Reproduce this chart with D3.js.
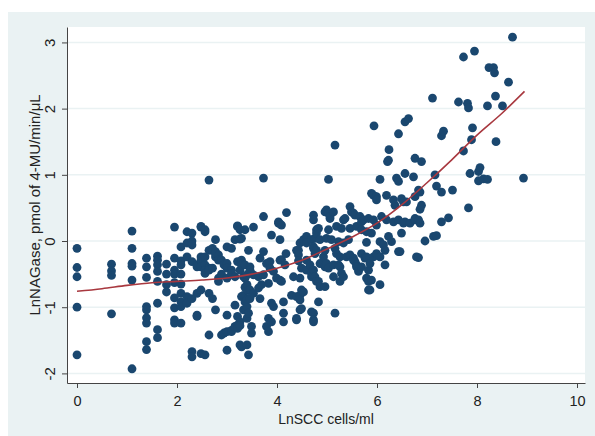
<!DOCTYPE html>
<html lang="en">
<head>
    <meta charset="UTF-8">
    <title>LnNAGase vs LnSCC</title>
    <script src="https://cdnjs.cloudflare.com/ajax/libs/d3/7.8.5/d3.min.js"></script>
</head>
<style>
    body { margin: 0; background: #fff; }
    text { font-family: "Liberation Sans", Arial, sans-serif; fill: #222; }
    .grid { stroke: #eaf2f3; stroke-width: 1.5; }
    .dot { fill: #1a476f; }
    .fit { fill: none; stroke: #a8383f; stroke-width: 1.6; }
</style>
<body>
<svg id="chart" width="595" height="436"></svg>
<script>
    // tick values
    const xTicks = [0, 2, 4, 6, 8, 10];
    const yTicks = [-2, -1, 0, 1, 2, 3];

    const ptsLow = [
        [0, -0.11], [0, -0.40], [0, -0.54], [0, -1.0], [0, -1.72],
        [0.69, -0.35], [0.69, -0.45], [0.69, -0.52], [0.69, -1.10],
        [1.10, 0.15], [1.10, -0.11], [1.10, -0.34], [1.10, -0.38], [1.10, -0.59], [1.10, -1.93],
        [1.39, -0.26], [1.39, -0.39], [1.39, -0.55], [1.39, -0.99], [1.39, -1.04], [1.39, -1.16],
        [1.39, -1.24], [1.39, -1.52], [1.39, -1.64],
        [1.61, -0.23], [1.61, -0.29], [1.61, -0.36], [1.61, -0.46], [1.61, -0.61], [1.61, -0.94],
        [1.61, -1.34], [1.61, -1.46],
        [1.79, -0.35], [1.79, -0.50], [1.79, -0.66], [1.79, -0.77],
        [1.95, 0.21], [1.95, -0.26], [1.95, -0.44], [1.95, -0.50], [1.95, -0.63], [1.95, -0.86],
        [1.95, -1.01], [1.95, -1.19], [1.95, -1.24]
    ];

    const ptsMid = [
        [2.08, -0.09], [2.08, -0.30], [2.08, -0.36], [2.08, -0.50], [2.08, -0.65], [2.08, -0.92],
        [2.08, -0.99], [2.08, -1.24], [2.08, -0.79],
        [2.20, 0.14], [2.20, -0.24], [2.20, -0.84], [2.20, -0.94], [2.20, -0.03],
        [2.30, 0.12], [2.30, 0.0], [2.30, -0.31], [2.30, -0.87], [2.30, -1.67], [2.30, -1.75], [2.30, -0.06],
        [2.40, -0.36], [2.40, -0.39], [2.40, -1.12], [2.40, -1.14], [2.40, -0.79],
        [2.48, 0.21], [2.48, 0.22], [2.48, -0.24], [2.48, -0.29], [2.48, -0.39], [2.48, -0.74], [2.48, -1.70],
        [2.56, 0.14], [2.56, 0.17], [2.56, -0.36], [2.56, -0.44], [2.56, -0.49], [2.56, -1.72], [2.56, -0.24],
        [2.64, 0.92], [2.64, -0.14], [2.64, -0.41], [2.64, -0.44], [2.64, -1.42], [2.64, -0.79],
        [2.71, -0.14], [2.71, -0.41], [2.71, -0.87], [2.71, -0.11],
        [2.77, 0.02], [2.77, -0.16], [2.77, -0.24], [2.77, -1.04], [2.77, -0.19],
        [2.83, -0.21], [2.83, -0.29], [2.83, -0.56], [2.83, -0.61],
        [2.89, -0.29], [2.89, -1.42], [2.89, -0.50],
        [2.94, -0.36], [2.94, -1.39],
        [3.0, -0.09], [3.0, -0.34], [3.0, -0.41], [3.0, -0.56], [3.0, -1.12], [3.0, -1.65], [3.0, -1.37],
        [3.09, -0.11], [3.09, -0.44], [3.09, -0.49], [3.09, -1.37], [3.09, -1.35],
        [3.16, 0.02], [3.16, -0.54], [3.16, -0.97], [3.16, -1.29], [3.16, -1.30],
        [3.21, 0.22], [3.21, 0.23], [3.21, -0.31], [3.21, -1.14], [3.21, -1.27], [3.21, -1.32],
        [3.26, 0.17], [3.26, 0.03], [3.26, -0.44], [3.26, -1.22], [3.26, -1.57], [3.26, -1.28],
        [3.29, 0.04], [3.29, -0.29], [3.29, -0.36], [3.29, -0.84], [3.29, -1.60],
        [3.33, -0.54], [3.33, -1.04], [3.33, -0.82],
        [3.36, 0.17], [3.36, -0.36], [3.36, -0.56], [3.36, -0.92], [3.36, -0.70],
        [3.40, -0.51], [3.40, -0.66], [3.40, -0.99], [3.40, -1.17], [3.40, -1.57], [3.40, -0.88],
        [3.43, -0.14], [3.43, -1.09], [3.43, -1.72], [3.43, -0.75],
        [3.46, -0.39], [3.46, -0.44], [3.46, -0.74], [3.46, -0.87],
        [3.49, -1.29], [3.49, -1.39],
        [3.53, 0.21], [3.53, -0.51], [3.53, -0.79],
        [3.63, -0.54], [3.63, -0.71],
        [3.66, -0.26], [3.66, -0.87],
        [3.69, -0.66],
        [3.73, 0.95], [3.73, 0.37], [3.73, -0.16], [3.73, -0.51],
        [3.79, -0.34], [3.79, -1.29],
        [3.83, -0.64], [3.83, -1.17], [3.83, -1.37],
        [3.86, -0.31], [3.86, -0.41],
        [3.89, 0.09], [3.89, -0.94], [3.89, -1.22],
        [3.93, -0.46], [3.93, -0.99],
        [3.99, -0.56]
    ];

    const ptsHigh = [
        [4.03, 0.29], [4.03, 0.27],
        [4.06, 0.26], [4.06, 0.02], [4.06, -0.29], [4.06, -0.59],
        [4.09, 0.24], [4.09, -0.28], [4.09, -0.61],
        [4.13, -0.92], [4.13, -1.09], [4.13, -1.22],
        [4.16, -0.36], [4.18, -0.19], [4.19, 0.43], [4.29, -0.82], [4.33, -0.54],
        [4.39, -0.14], [4.39, -0.84], [4.39, -1.17], [4.39, -1.19],
        [4.43, -0.14], [4.43, -0.21], [4.43, -0.30],
        [4.46, -0.03], [4.46, -0.56], [4.46, -0.82], [4.46, -0.89], [4.46, -1.04],
        [4.49, -0.41], [4.49, -0.74], [4.49, -1.02],
        [4.53, 0.02], [4.53, -0.77],
        [4.59, 0.07], [4.59, -0.03], [4.59, -0.29], [4.59, -0.44],
        [4.66, -0.36],
        [4.69, 0.02], [4.69, -0.49], [4.69, -0.54], [4.69, -1.07],
        [4.73, 0.39], [4.73, 0.32], [4.73, -0.09], [4.73, -0.11], [4.73, -0.44], [4.73, -1.09],
        [4.73, -1.19], [4.73, -1.22],
        [4.76, 0.04], [4.76, -0.19], [4.76, -0.54],
        [4.79, 0.17], [4.79, 0.12], [4.79, -0.14], [4.79, -0.61],
        [4.83, 0.19], [4.83, -0.61], [4.83, -0.92],
        [4.86, 0.02], [4.86, -0.34], [4.86, -0.69],
        [4.93, -0.24],
        [4.96, 0.44], [4.96, -0.14], [4.96, -0.39], [4.96, -0.69],
        [4.99, 0.47], [4.99, 0.04], [4.99, -0.34],
        [5.03, 0.93], [5.03, 0.42], [5.03, 0.17], [5.03, -0.41],
        [5.06, 0.34], [5.06, 0.37], [5.09, 0.02],
        [5.13, 0.44], [5.13, -0.36], [5.13, -0.54],
        [5.16, 1.45], [5.16, -0.11], [5.16, -1.09],
        [5.19, 0.22], [5.19, -0.19],
        [5.23, -0.01], [5.23, -0.36],
        [5.26, -0.24], [5.26, -0.39], [5.26, -0.61],
        [5.29, 0.19], [5.29, -0.49],
        [5.33, 0.32], [5.33, -0.03], [5.33, -0.54],
        [5.36, 0.34], [5.39, -0.24], [5.43, 0.02],
        [5.46, 0.52], [5.46, 0.19], [5.46, -0.21],
        [5.49, 0.44],
        [5.53, 0.42], [5.53, -0.26], [5.53, -0.29],
        [5.56, 0.39], [5.56, -0.31],
        [5.59, 0.22], [5.59, -0.36], [5.59, -0.39],
        [5.63, -0.46], [5.66, 0.37],
        [5.69, 0.29], [5.69, 0.17], [5.69, -0.19], [5.69, -0.39],
        [5.73, 0.32], [5.76, -0.26],
        [5.79, 0.14], [5.79, -0.02], [5.79, -0.24], [5.79, -0.56],
        [5.83, 0.34], [5.83, -0.44], [5.83, -0.61], [5.83, -0.74],
        [5.86, -0.74], [5.86, -0.34],
        [5.89, 0.72], [5.89, 0.12], [5.89, -0.59],
        [5.94, 1.74], [5.93, 0.69], [5.93, 0.32], [5.93, -0.24],
        [5.99, 0.67], [5.99, 0.62], [5.99, 0.24], [5.99, -0.19]
    ];

    const ptsTop = [
        [6.06, 0.93], [6.06, -0.01], [6.06, -0.24], [6.06, -0.66],
        [6.09, 0.37], [6.13, -0.06], [6.16, -0.14], [6.16, -0.36],
        [6.19, 0.69], [6.19, 0.32], [6.21, 1.20], [6.23, 1.22], [6.23, 0.07], [6.24, 1.38],
        [6.29, -0.01], [6.33, 0.62], [6.33, 0.29], [6.36, 0.54], [6.39, 0.95],
        [6.43, 1.62], [6.43, 0.90], [6.43, 0.32], [6.43, -0.16], [6.46, -0.16],
        [6.49, 0.64], [6.49, 0.12], [6.53, 0.27], [6.53, 0.59],
        [6.56, 1.80], [6.56, 1.02], [6.56, 0.29], [6.59, 0.59], [6.63, 1.85], [6.66, 0.27],
        [6.73, 0.97], [6.76, 1.25], [6.76, 0.67], [6.76, 0.34], [6.76, 0.32], [6.79, -0.24],
        [6.83, 0.77], [6.83, 0.32], [6.83, -0.25], [6.86, 0.74], [6.86, 0.48], [6.86, 0.27],
        [6.89, 1.20], [6.89, 0.54], [6.96, 0.0],
        [7.11, 2.16], [7.13, 0.07], [7.16, 1.0], [7.19, 0.83], [7.19, 0.08],
        [7.29, 1.59], [7.29, 0.74], [7.29, 0.29], [7.33, 1.66], [7.43, 0.35], [7.51, 0.77],
        [7.63, 2.10], [7.73, 2.78], [7.73, 1.36], [7.81, 2.08], [7.83, 2.01], [7.83, 0.50],
        [7.86, 1.02], [7.89, 1.53], [7.91, 1.71], [7.95, 2.87],
        [8.03, 1.05], [8.03, 0.91], [8.06, 1.11], [8.13, 0.94], [8.21, 2.04], [8.21, 0.93],
        [8.24, 2.62], [8.33, 2.62], [8.35, 2.54], [8.37, 2.19], [8.38, 1.50], [8.51, 2.04],
        [8.63, 2.40], [8.71, 3.08], [8.93, 0.95]
    ];

    // fitted curve
    const fitX = [0, 0.5, 1, 1.5, 2, 2.5, 3, 3.5, 4, 4.5, 5, 5.5, 6, 6.5, 7, 7.5, 8, 8.5, 8.95];
    const fitY = [-0.76, -0.72, -0.67, -0.63, -0.61, -0.59, -0.56, -0.50, -0.41, -0.29,
                  -0.12, 0.06, 0.27, 0.55, 0.88, 1.23, 1.60, 1.93, 2.26];

    const svg = d3.select("#chart");
    const plot = {left: 67, right: 585, top: 27, bottom: 383};

    // outer panel
    svg.append("rect").attr("x", 8).attr("y", 12).attr("width", 587).attr("height", 424)
        .style("fill", "#eaf2f3");
    svg.append("rect").attr("x", plot.left).attr("y", plot.top)
        .attr("width", plot.right - plot.left).attr("height", plot.bottom - plot.top)
        .style("fill", "#fff");

    const x = d3.scaleLinear().domain([-0.2, 10.16]).range([plot.left, plot.right]);
    const y = d3.scaleLinear().domain([-2.145, 3.233]).range([plot.bottom, plot.top]);

    svg.selectAll("line.grid")
        .data(yTicks)
        .enter()
        .append("line")
        .attr("class", "grid")
        .attr("x1", plot.left).attr("x2", plot.right)
        .attr("y1", d => y(d)).attr("y2", d => y(d));

    const points = ptsLow.concat(ptsMid, ptsHigh, ptsTop);
    svg.selectAll("circle.dot")
        .data(points)
        .enter()
        .append("circle")
        .attr("class", "dot")
        .attr("cx", d => x(d[0]))
        .attr("cy", d => y(d[1]))
        .attr("r", 4.4);

    const line = d3.line()
        .x(d => x(d[0]))
        .y(d => y(d[1]))
        .curve(d3.curveMonotoneX);
    svg.append("path")
        .attr("class", "fit")
        .attr("d", line(fitX.map((v, i) => [v, fitY[i]])));

    // axes
    const xAxis = svg.append("g")
        .attr("transform", `translate(0,${plot.bottom})`)
        .call(d3.axisBottom(x).tickValues(xTicks).tickSize(5).tickSizeOuter(0).tickFormat(d => String(d)));
    xAxis.selectAll("text").attr("y", 23).attr("dy", 0).style("font-size", "14.5px");

    const yAxis = svg.append("g")
        .attr("transform", `translate(${plot.left},0)`)
        .call(d3.axisLeft(y).tickValues(yTicks).tickSize(5).tickSizeOuter(0).tickFormat(d => String(d)));
    yAxis.selectAll("text")
        .attr("x", 0).attr("y", -12).attr("dy", 0)
        .attr("text-anchor", "middle")
        .attr("transform", "rotate(-90)")
        .style("font-size", "15px");

    svg.selectAll(".domain, .tick line").style("stroke", "#444");
    svg.selectAll(".tick text").style("fill", "#222").style("font-family", "'Liberation Sans', Arial, sans-serif");

    svg.append("text")
        .attr("x", (plot.left + plot.right) / 2)
        .attr("y", 424)
        .attr("text-anchor", "middle")
        .style("font-size", "14px")
        .text("LnSCC cells/ml");

    svg.append("text")
        .attr("transform", `translate(40,${(plot.top + plot.bottom) / 2}) rotate(-90)`)
        .attr("text-anchor", "middle")
        .style("font-size", "15px")
        .text("LnNAGase, pmol of 4-MU/min/μL");
</script>
</body>
</html>
